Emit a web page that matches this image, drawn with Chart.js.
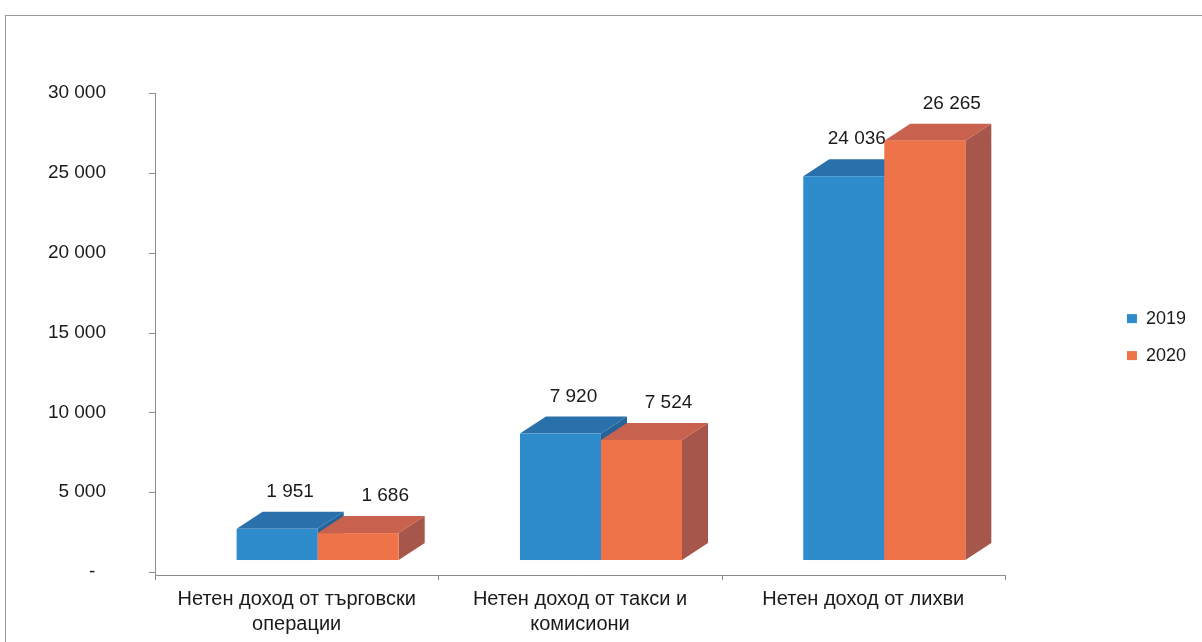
<!DOCTYPE html>
<html>
<head>
<meta charset="utf-8">
<script src="https://cdn.jsdelivr.net/npm/chart.js@4"></script>
<style>
  html, body { margin: 0; padding: 0; background: #fff; }
  #frame { position: absolute; left: 5px; top: 15px; width: 1300px; height: 700px;
           border-top: 1px solid #9a9a9a; border-left: 1px solid #9a9a9a; }
  #wrap { position: absolute; left: 0; top: 0; width: 1202px; height: 642px; }
</style>
</head>
<body>
<div id="frame"></div>
<div id="wrap"><canvas id="chart" width="1202" height="642"></canvas></div>
<script>
// Chart data
const categories = [
    ['Нетен доход от търговски', 'операции'],
    ['Нетен доход от такси и', 'комисиони'],
    'Нетен доход от лихви'
];
const seriesNames = ['2019', '2020'];
const values2019 = [1951, 7920, 24036];
const values2020 = [1686, 7524, 26265];
const yTicks = [0, 5000, 10000, 15000, 20000, 25000, 30000];

// Colours for front / top / side faces
const faces = [
    { front: '#2e8ccc', top: '#2a70aa', side: '#25639a' },
    { front: '#ee7348', top: '#c8614d', side: '#a6564b' }
];
const DEPTH_X = 26, DEPTH_Y = -17;
const FONT = '"Liberation Sans", Arial, sans-serif';

const fmt = v => v === 0 ? '-  ' : String(v).replace(/\B(?=(\d{3})+(?!\d))/g, ' ');

// Draws the back axis lines, the 3D bar faces and the value labels
const bars3d = {
    id: 'bars3d',
    afterDatasetsDraw(chart) {
        const ctx = chart.ctx;
        const y = chart.scales.y;
        const area = chart.chartArea;
        const axisX = area.left - 21;
        const y0 = y.getPixelForValue(0);
        const catW = (area.right - area.left) / categories.length;

        ctx.save();
        // cover Chart.js flat bars, we redraw them in index order
        ctx.fillStyle = '#fff';
        ctx.fillRect(area.left, area.top - 40, area.right - area.left + 40, area.bottom - area.top + 40);

        // axes
        ctx.strokeStyle = '#8c8c8c';
        ctx.lineWidth = 1;
        ctx.beginPath();
        ctx.moveTo(axisX + 0.5, y.getPixelForValue(30000));
        ctx.lineTo(axisX + 0.5, y0 + 3);
        yTicks.forEach(t => {
            const py = Math.round(y.getPixelForValue(t)) + 0.5;
            ctx.moveTo(axisX - 6, py);
            ctx.lineTo(axisX, py);
        });
        ctx.moveTo(axisX, y0 + 3.5);
        ctx.lineTo(axisX + catW * categories.length, y0 + 3.5);
        for (let i = 0; i <= categories.length; i++) {
            const px = Math.round(axisX + catW * i) + 0.5;
            ctx.moveTo(px, y0 + 3);
            ctx.lineTo(px, y0 + 8);
        }
        ctx.stroke();

        // bars
        chart.data.datasets.forEach((ds, di) => {
            const meta = chart.getDatasetMeta(di);
            const c = faces[di];
            meta.data.forEach(bar => {
                const l = bar.x - bar.width / 2, r = bar.x + bar.width / 2;
                const t = bar.y, b = bar.base;
                ctx.fillStyle = c.side;
                ctx.beginPath();
                ctx.moveTo(r, t);
                ctx.lineTo(r + DEPTH_X, t + DEPTH_Y);
                ctx.lineTo(r + DEPTH_X, b + DEPTH_Y);
                ctx.lineTo(r, b);
                ctx.closePath();
                ctx.fill();
                ctx.fillStyle = c.top;
                ctx.beginPath();
                ctx.moveTo(l, t);
                ctx.lineTo(l + DEPTH_X, t + DEPTH_Y);
                ctx.lineTo(r + DEPTH_X, t + DEPTH_Y);
                ctx.lineTo(r, t);
                ctx.closePath();
                ctx.fill();
                ctx.fillStyle = c.front;
                ctx.fillRect(l, t, r - l, b - t);
            });
        });

        // value labels
        ctx.fillStyle = '#1a1a1a';
        ctx.font = '19px ' + FONT;
        ctx.textAlign = 'center';
        ctx.textBaseline = 'middle';
        chart.data.datasets.forEach((ds, di) => {
            chart.getDatasetMeta(di).data.forEach((bar, i) => {
                ctx.fillText(fmt(ds.data[i]), bar.x + (di === 0 ? 13 : 27), bar.y - 37);
            });
        });
        ctx.restore();
    }
};

new Chart(document.getElementById('chart'), {
    type: 'bar',
    data: {
        labels: categories,
        datasets: [
            { label: seriesNames[0], data: values2019, backgroundColor: faces[0].front, yAxisID: 'y2' },
            { label: seriesNames[1], data: values2020, backgroundColor: faces[1].front, yAxisID: 'y2' }
        ]
    },
    options: {
        responsive: false,
        animation: false,
        categoryPercentage: 0.572,
        barPercentage: 1,
        layout: { padding: { top: 93, left: 0, right: 6, bottom: 0 } },
        plugins: {
            legend: {
                position: 'right',
                fullSize: false,
                title: { display: true, text: '', font: { size: 6 }, padding: 1 },
                labels: {
                    boxWidth: 10,
                    boxHeight: 9,
                    padding: 19,
                    color: '#1a1a1a',
                    font: { family: FONT, size: 18 }
                }
            },
            tooltip: { enabled: false }
        },
        scales: {
            x: {
                grid: { display: false },
                border: { display: false },
                ticks: {
                    color: '#1a1a1a',
                    padding: 7,
                    labelOffset: -21,
                    maxRotation: 0,
                    autoSkip: false,
                    font: { family: FONT, size: 20, lineHeight: 1.25 }
                },
                afterFit: s => { s.height = 70; }
            },
            y: {
                position: 'left',
                min: 0,
                max: 30000,
                grid: { display: false },
                border: { display: false },
                afterBuildTicks: s => { s.ticks = yTicks.map(v => ({ value: v })); },
                ticks: {
                    color: '#1a1a1a',
                    padding: 62,
                    callback: v => fmt(v),
                    font: { family: FONT, size: 19 }
                },
                afterFit: s => { s.width = 176; s.paddingTop = 0; s.paddingBottom = 0; }
            },
            y2: {
                position: 'right',
                min: -750,
                max: 29250,
                grid: { display: false },
                border: { display: false },
                ticks: { display: false },
                afterFit: s => { s.width = 82; }
            }
        }
    },
    plugins: [bars3d]
});
</script>
</body>
</html>
